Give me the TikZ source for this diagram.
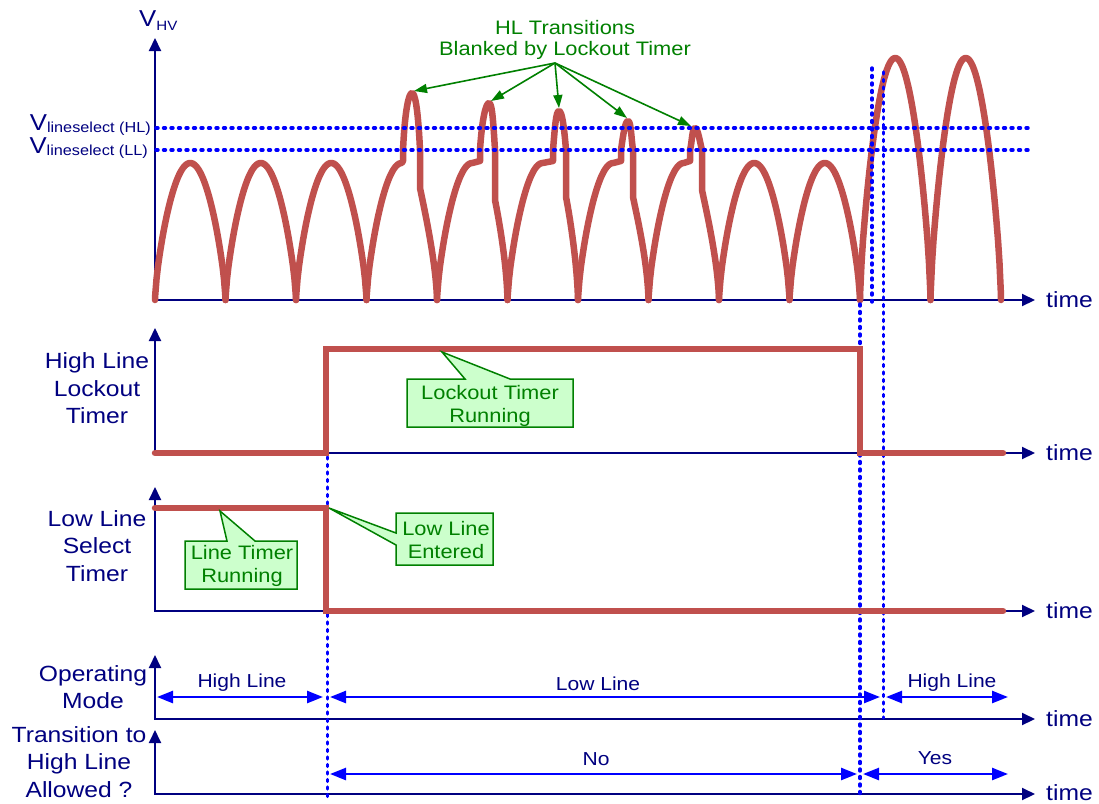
\documentclass[tikz,border=0pt]{standalone}
\usepackage{fontspec}
\setmainfont{Liberation Sans}[FakeStretch=1.12]
\usetikzlibrary{arrows.meta}
\definecolor{navy}{RGB}{0,0,128}
\definecolor{dblue}{RGB}{0,0,255}
\definecolor{wred}{RGB}{192,80,77}
\definecolor{ggreen}{RGB}{0,128,0}
\definecolor{lgreen}{RGB}{204,255,204}
\newcommand\normhump[2]{\draw[wave] (#1,300) -- plot[domain=0.15:70.35,samples=51] ({#1+\x},{300-#2*(abs(sin(180*\x/70.5)))^0.7}) -- (#1+70.5,300);}
\newcommand\spikehump[6]{%
  \draw[wave] (#1,300) -- plot[domain=0.15:35.25,samples=26] ({#1+\x},{300-137*(abs(sin(180*\x/70.5)))^0.7})
    -- (#2,161) -- (#2,150)
    .. controls (#2+2,#4+15) and (#3-3,#4) .. (#3,#4)
    .. controls (#3+3,#4) and (#5-2,#4+15) .. (#5,150)
    -- (#5,#6)
    .. controls (#5+3,#6+15) and (#1+69.5,260) .. (#1+70.5,300);}
\tikzset{
  axis/.style={draw=navy, line width=2pt, {Triangle[length=13pt,width=12pt]}-{Triangle[length=13pt,width=12pt]}},
  wave/.style={draw=wred, line width=6.5pt, line cap=round, line join=round},
  sig/.style={draw=wred, line width=6.5pt, line cap=round, line join=miter},
  dots/.style={draw=dblue, line width=3.4pt, line cap=round, dash pattern=on 2pt off 5.5pt},
  span/.style={draw=dblue, line width=2.5pt, {Triangle[length=16pt,width=12pt]}-{Triangle[length=16pt,width=12pt]}},
  garrow/.style={draw=ggreen, line width=1.6pt, -{Triangle[length=13pt,width=9pt]}},
  callout/.style={draw=ggreen, fill=lgreen, line width=1.5pt, line join=miter},
  lbl/.style={text=navy, align=center, font=\fontsize{22}{27.5}\selectfont, inner sep=0pt},
  timel/.style={text=navy, anchor=base west, font=\fontsize{22}{26}\selectfont, inner sep=0pt},
  spanl/.style={text=navy, anchor=base, font=\fontsize{18.8}{22}\selectfont, inner sep=0pt},
  ctext/.style={text=ggreen, align=center, font=\fontsize{19.5}{23}\selectfont, inner sep=0pt},
  ttl/.style={text=ggreen, align=center, font=\fontsize{19.5}{21}\selectfont, inner sep=0pt},
  vl/.style={text=navy, font=\fontsize{23}{24}\selectfont, inner sep=0pt},
}
\begin{document}
\begin{tikzpicture}[x=1pt,y=-1pt]
\fill[white] (0,0) rectangle (1099,803);
\useasboundingbox (0,0) rectangle (1099,803);
% axes
\draw[axis] (155,38) |- (1035,300);
\draw[axis] (155,328) |- (1035,453);
\draw[axis] (155,487) |- (1035,611);
\draw[axis] (155,655) |- (1035,719);
\draw[axis] (155,730) |- (1035,794);
% waveform
\normhump{155}{137}
\normhump{225.5}{137}
\normhump{296}{137}
\spikehump{366.5}{403}{412}{93}{420}{188}
\spikehump{437}{480}{489}{103}{495}{200}
\spikehump{507.5}{553}{559}{111}{566}{197}
\spikehump{578}{621}{628}{121}{633}{197}
\spikehump{648.5}{690}{695}{128}{702}{190}
\normhump{719}{137}
\normhump{789.5}{137}
\normhump{860}{242}
\normhump{930.5}{242}
% vertical dotted lines
\draw[dots] (327.5,457) -- (327.5,797);
\draw[dots] (860,304) -- (860,797);
\draw[dots] (872,68) -- (872,302);
\draw[dots] (883.5,72) -- (883.5,718);
% timer signals
\draw[sig] (155,453) -- (326,453) -- (326,349) -- (860,349) -- (860,453) -- (1003,453);
\draw[sig] (155,508) -- (326,508) -- (326,611) -- (1003,611);
% threshold lines
\draw[dots] (156,128) -- (1031,128);
\draw[dots] (156,150) -- (1031,150);
% V labels
\node[vl, anchor=base west] (vhv) at (139,27) {V\raisebox{-3pt}{\fontsize{13.5}{14}\selectfont HV}};
\node[vl, anchor=base east] (vhl) at (151,130) {V\raisebox{-2pt}{\fontsize{14.5}{15}\selectfont lineselect (HL)}};
\node[vl, anchor=base east] (vll) at (148,153) {V\raisebox{-2pt}{\fontsize{14.5}{15}\selectfont lineselect (LL)}};
% title and arrows
\node[ttl] (title) at (565,39.5) {HL Transitions\\Blanked by Lockout Timer};
\coordinate (src) at (555,63);
\coordinate (p1) at (414,91);
\coordinate (p2) at (491,101);
\coordinate (p3) at (559,108);
\coordinate (p4) at (627,118);
\coordinate (p5) at (691,126);
\foreach \p in {p1,p2,p3,p4,p5} \draw[garrow] (src) -- (\p);
% callouts
\draw[callout] (407,379) -- (465,379) -- (442,352) -- (510,379) -- (573,379) -- (573,427) -- (407,427) -- cycle;
\node[ctext] (lockrun) at (490,405.5) {Lockout Timer\\Running};
\draw[callout] (185,541) -- (227,541) -- (220,511) -- (255,541) -- (297,541) -- (297,589) -- (185,589) -- cycle;
\node[ctext] (linerun) at (242,566) {Line Timer\\Running};
\draw[callout] (396,513) -- (493,513) -- (493,565) -- (396,565) -- (396,545) -- (329,508) -- (396,533) -- cycle;
\node[ctext] (llent) at (446,540) {Low Line\\Entered};
% left labels
\node[lbl] (hllt) at (97,388.5) {High Line\\Lockout\\Timer};
\node[lbl] (llst) at (97,546) {Low Line\\Select\\Timer};
\node[lbl] (opm) at (93,687) {Operating\\Mode};
\node[lbl] (thl) at (79,762) {Transition to\\High Line\\Allowed ?};
% time labels
\node[timel] (t1) at (1046,307) {time};
\node[timel] (t2) at (1046,460) {time};
\node[timel] (t3) at (1046,618) {time};
\node[timel] (t4) at (1046,726) {time};
\node[timel] (t5) at (1046,800) {time};
% spans
\draw[span] (157,697) -- (323,697);
\draw[span] (330,697) -- (880,697);
\draw[span] (886,697) -- (1008,697);
\draw[span] (330,774) -- (857,774);
\draw[span] (863,774) -- (1008,774);
\node[spanl] (hl1) at (242,687) {High Line};
\node[spanl] (ll) at (598,690) {Low Line};
\node[spanl] (hl2) at (952,687) {High Line};
\node[spanl] (no) at (596,765) {No};
\node[spanl] (yes) at (935,764) {Yes};
\end{tikzpicture}
\end{document}
